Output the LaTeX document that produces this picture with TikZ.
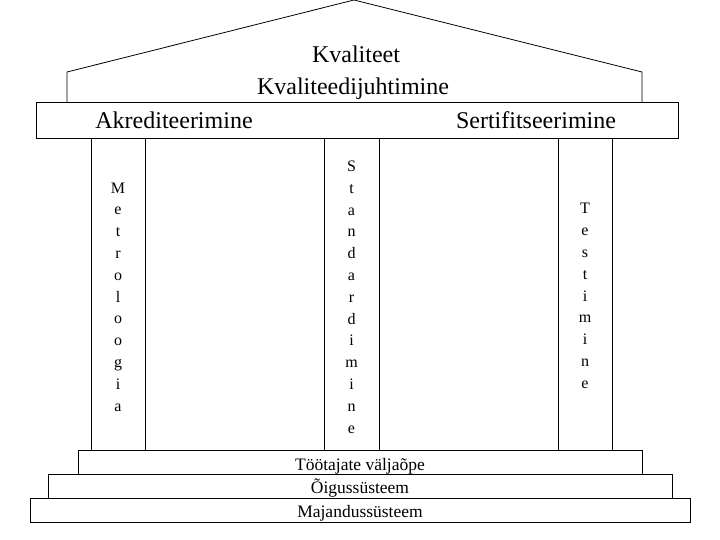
\documentclass[tikz,border=0pt]{standalone}
\usepackage{fontspec}
\setmainfont{Liberation Serif}
\usetikzlibrary{positioning}

\begin{document}
\begin{tikzpicture}[
    x=1pt, y=-1pt,
    line width=0.8pt,
    every node/.style={inner sep=0pt, outer sep=0pt},
    slab/.style={rectangle, draw, anchor=north west},
    hollow/.style={rectangle, anchor=north west},
    pillar/.style={rectangle, draw, anchor=north west, minimum width=54pt, minimum height=312pt},
    bigtext/.style={anchor=base, font=\fontsize{24}{28}\selectfont},
    basetext/.style={anchor=base, font=\fontsize{17.5}{20}\selectfont},
    stacktext/.style={align=center, font=\fontsize{16}{21.8}\selectfont}
]
\useasboundingbox (0,0) rectangle (720,540);

% Roof
\coordinate (apex) at (354,0);
\node[hollow, minimum width=575pt, minimum height=30pt] (kjbox) at (67,72) {};
\draw (kjbox.south west) -- (kjbox.north west) -- (apex) -- (kjbox.north east) -- (kjbox.south east);
\node[bigtext] (kval) at (356,63) {Kvaliteet};
\node[bigtext] (kjuht) at (353,95) {Kvaliteedijuhtimine};

% Beam
\node[slab, minimum width=642pt, minimum height=36pt] (beam) at (36,102) {};
\node[bigtext] (akr) at (174,129) {Akrediteerimine};
\node[bigtext] (sert) at (536,129) {Sertifitseerimine};

% Pillars
\node[pillar] (p1) at (91,138) {};
\node[pillar, minimum width=55pt] (p2) at (324,138) {};
\node[pillar] (p3) at (558,138) {};
\node[stacktext] (metro) at (p1 |- 0,297) {M\\e\\t\\r\\o\\l\\o\\o\\g\\i\\a};
\node[stacktext] (stand) at (p2 |- 0,297) {S\\t\\a\\n\\d\\a\\r\\d\\i\\m\\i\\n\\e};
\node[stacktext] (test) at (p3 |- 0,296) {T\\e\\s\\t\\i\\m\\i\\n\\e};

% Steps
\node[slab, minimum width=564pt, minimum height=24pt] (s1) at (78,450) {};
\node[slab, minimum width=624pt, minimum height=24pt] (s2) at (48,474) {};
\node[slab, minimum width=660pt, minimum height=24pt] (s3) at (30,498) {};
\node[basetext] (too) at (360,470) {Töötajate väljaõpe};
\node[basetext] (oig) at (360,493) {Õigussüsteem};
\node[basetext] (maj) at (360,517) {Majandussüsteem};

\end{tikzpicture}
\end{document}
